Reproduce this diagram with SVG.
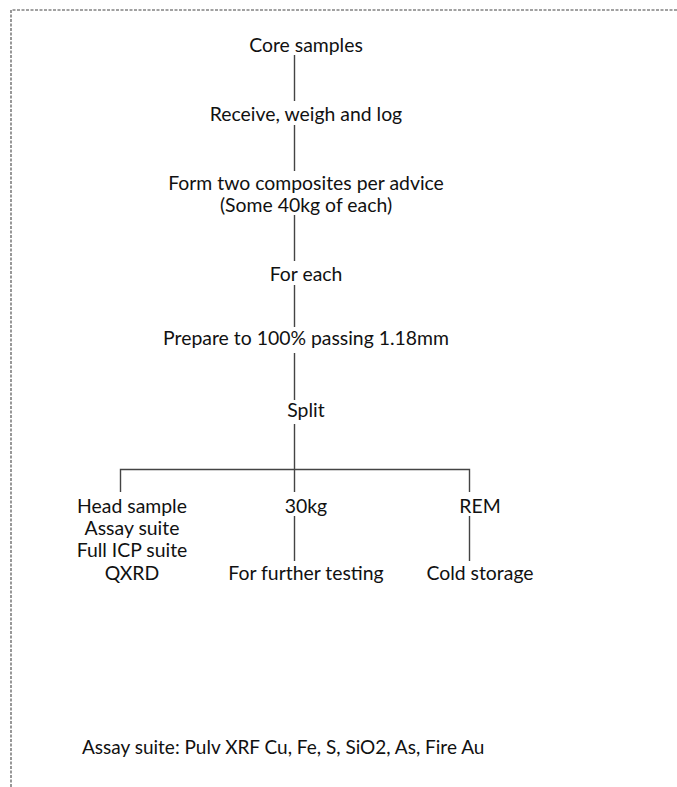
<svg xmlns="http://www.w3.org/2000/svg" width="677" height="787" viewBox="0 0 677 787">
<style>
text{font-family:"Lato","Open Sans","Liberation Sans",sans-serif;font-size:19.4px;fill:#111;text-anchor:middle}
.c line{stroke:#444;stroke-width:1.4;fill:none}
.b{stroke:#444;stroke-width:1.1;stroke-dasharray:3 1.5;fill:none}
</style>
<rect width="677" height="787" fill="#fff"/>
<path class="b" d="M11 787 V10 H677"/>
<g class="c" id="connectors">
<line x1="294.5" y1="55" x2="294.5" y2="101"/>
<line x1="294.5" y1="125" x2="294.5" y2="171"/>
<line x1="294.5" y1="215" x2="294.5" y2="261"/>
<line x1="294.5" y1="285" x2="294.5" y2="327"/>
<line x1="294.5" y1="353" x2="294.5" y2="400"/>
<line x1="294.5" y1="424" x2="294.5" y2="492"/>
<path d="M120.5 492 V469.5 H469.5 V492" stroke="#444" stroke-width="1.4" fill="none"/>
<line x1="294.5" y1="516" x2="294.5" y2="561"/>
<line x1="469.5" y1="516" x2="469.5" y2="561"/>
</g>
<g id="n1"><text x="306" y="52">Core samples</text></g>
<g id="n2"><text x="306" y="121">Receive, weigh and log</text></g>
<g id="n3"><text x="306" y="190">Form two composites per advice</text><text x="306" y="212">(Some 40kg of each)</text></g>
<g id="n4"><text x="306" y="281">For each</text></g>
<g id="n5"><text x="306" y="345">Prepare to 100% passing 1.18mm</text></g>
<g id="n6"><text x="306" y="417">Split</text></g>
<g id="n7"><text x="132" y="513">Head sample</text><text x="132" y="535">Assay suite</text><text x="132" y="557">Full ICP suite</text><text x="132" y="580">QXRD</text></g>
<g id="n8"><text x="306" y="513">30kg</text></g>
<g id="n9"><text x="306" y="580">For further testing</text></g>
<g id="n10"><text x="480" y="513">REM</text></g>
<g id="n11"><text x="480" y="580">Cold storage</text></g>
<g id="note"><text x="82" y="754" style="text-anchor:start;font-size:19px">Assay suite: Pulv XRF Cu, Fe, S, SiO2, As, Fire Au</text></g>
</svg>
